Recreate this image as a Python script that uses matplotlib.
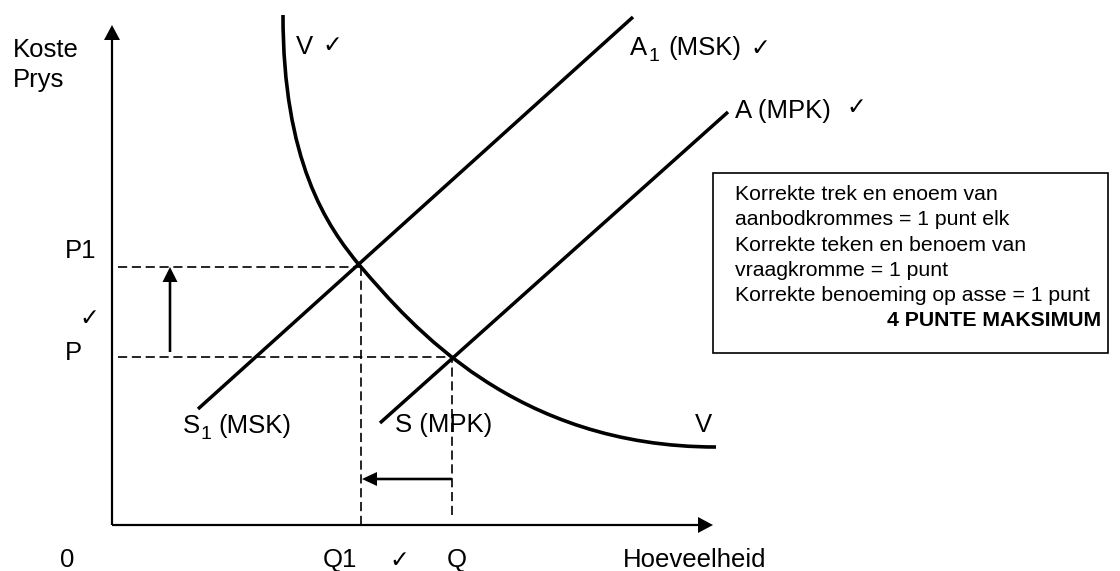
import matplotlib
matplotlib.use("Agg")
import matplotlib.pyplot as plt
from matplotlib.patches import Rectangle, PathPatch
from matplotlib.path import Path

# ---- data (diagram units: quantity to the right, price upward, origin at axes origin)
Q1, Q = 249, 340          # quantities
P1, P = 258, 168          # prices
supply_s1_x = [86, 521]   # S1 (MSK) -> A1 (MSK)
supply_s1_y = [116, 508]
supply_s_x = [268, 616]   # S (MPK) -> A (MPK)
supply_s_y = [102, 413]
# demand curve V as two cubic Bezier pieces (start, ctrl, ctrl, joint, ctrl, ctrl, end)
demand_x = [171, 171, 214, 249, 299, 403, 604]
demand_y = [510, 365, 299, 258, 200, 78, 78]
x_axis_end = 601
y_axis_end = 500

box_lines = ["Korrekte trek en enoem van",
             "aanbodkrommes = 1 punt elk",
             "Korrekte teken en benoem van",
             "vraagkromme = 1 punt",
             "Korrekte benoeming op asse = 1 punt"]
box_last = "4 PUNTE MAKSIMUM"

# ---- figure
W, H = 1120, 571
OX, OY = 112, 525  # pixel position of origin
fig = plt.figure(figsize=(W / 100, H / 100), dpi=100)
ax = fig.add_axes([0, 0, 1, 1])
ax.set_xlim(-OX, W - OX)
ax.set_ylim(OY - H, OY)
ax.axis("off")


def px(x, y):
    return x - OX, OY - y


FAM = ["Liberation Sans", "DejaVu Sans"]
FS = 18.5
CK = 17
k = dict(color="black", solid_capstyle="butt")

# axes with arrows
ax.arrow(0, 0, 0, y_axis_end, width=2.2, head_width=16, head_length=15,
         length_includes_head=True, color="black", lw=0)
ax.arrow(0, 0, x_axis_end, 0, width=2.2, head_width=16, head_length=15,
         length_includes_head=True, color="black", lw=0)

# dashed guides
dash = dict(color="black", lw=1.2, linestyle=(0, (5.5, 2.8)))
ax.plot([6, Q1], [P1, P1], **dash)
ax.plot([6, Q], [P, P], **dash)
ax.plot([Q1, Q1], [0, P1], **dash)
ax.plot([Q, Q], [10, P], **dash)

# supply curves
ax.plot(supply_s1_x, supply_s1_y, lw=2.5, **k)
ax.plot(supply_s_x, supply_s_y, lw=2.5, **k)

# demand curve
codes = [Path.MOVETO] + [Path.CURVE4] * 6
path = Path(list(zip(demand_x, demand_y)), codes)
ax.add_patch(PathPatch(path, fill=False, lw=2.6, ec="black", capstyle="butt"))

# shift arrows
ax.arrow(58, P + 5, 0, P1 - P - 5, width=2.6, head_width=15, head_length=15,
         length_includes_head=True, color="black", lw=0)
ax.arrow(Q, 46, Q1 - Q + 1, 0, width=2.6, head_width=14, head_length=15,
         length_includes_head=True, color="black", lw=0)


def t(x, y, s, size=FS, **kw):
    ax.text(*px(x, y), s, fontsize=size, family=FAM, va="baseline", ha=kw.pop("ha", "left"), **kw)


# labels
t(13, 57, "Koste")
t(13, 87, "Prys")
t(296, 54, "V")
t(322, 52, "\u2713", CK)
t(630, 55, "A")
t(649, 61, "1", 14)
t(668, 55, "(MSK)")
t(750, 55, "\u2713", CK)
t(735, 118, "A (MPK)")
t(846, 114, "\u2713", CK)
t(65, 258, "P1")
t(79, 325, "\u2713", CK)
t(65, 360, "P")
t(183, 433, "S")
t(200, 439, "1", 14)
t(218, 433, "(MSK)")
t(395, 432, "S (MPK)")
t(695, 432, "V")
t(60, 567, "0")
t(323, 567, "Q1")
t(389, 567, "\u2713", CK)
t(447, 567, "Q")
t(623, 567, "Hoeveelheid")

# marking box
x0, y0 = px(713, 353)
ax.add_patch(Rectangle((x0, y0), 1108 - 713, 353 - 173, fill=False, lw=1.2, ec="black"))
for i, line in enumerate(box_lines):
    t(735, 200 + 25.3 * i, line, 15.3)
t(1101, 200 + 25.3 * 5, box_last, 15.3, ha="right", weight="bold")

fig.savefig("out.png", dpi=100)
